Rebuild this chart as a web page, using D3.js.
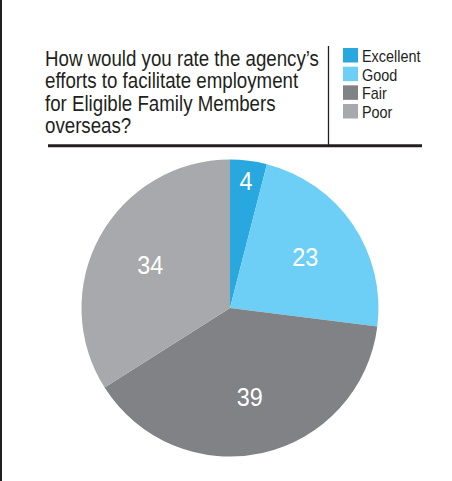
<!DOCTYPE html>
<html>
<head>
<meta charset="utf-8">
<script src="https://cdn.jsdelivr.net/npm/d3@7"></script>
<style>
  html, body { margin: 0; padding: 0; background: #fff; }
  svg { display: block; }
  text { font-family: "Liberation Sans", Arial, sans-serif; }
</style>
</head>
<body>
<svg id="chart" width="452" height="481"></svg>
<script>
// Survey responses (percent)
const categories = ["Excellent", "Good", "Fair", "Poor"];
const values = [4, 23, 39, 34];
const colors = ["#29a8e0", "#6dcff6", "#808285", "#a7a9ac"];
const titleLines = [
  "How would you rate the agency\u2019s",
  "efforts to facilitate employment",
  "for Eligible Family Members",
  "overseas?"
];

const W = 452, H = 481;
const ink = "#231f20";
const svg = d3.select("#chart");

// page edge rule on the left
svg.append("rect").attr("x", 0).attr("y", 0).attr("width", 2).attr("height", H).attr("fill", ink);

// title block, set in a condensed face (horizontally narrowed sans)
const title = svg.append("text")
  .attr("transform", "translate(45,66) scale(0.85,1)")
  .attr("fill", ink)
  .attr("font-size", 22);
title.selectAll("tspan").data(titleLines).join("tspan")
  .attr("x", 0)
  .attr("y", (d, i) => i * 22.5)
  .text(d => d);

// header rules
svg.append("line").attr("x1", 328.5).attr("x2", 328.5).attr("y1", 46).attr("y2", 145)
  .attr("stroke", ink).attr("stroke-width", 1.3);
svg.append("line").attr("x1", 48).attr("x2", 422).attr("y1", 145.8).attr("y2", 145.8)
  .attr("stroke", ink).attr("stroke-width", 3);

// legend
const color = d3.scaleOrdinal().domain(categories).range(colors);
const legendY = d3.scalePoint().domain(categories).range([48, 104]);
const item = svg.append("g").selectAll("g").data(categories).join("g")
  .attr("transform", d => `translate(343,${legendY(d)})`);
item.append("rect").attr("width", 15).attr("height", 14.5).attr("fill", d => color(d));
item.append("text")
  .attr("transform", "translate(19,14) scale(0.9,1)")
  .attr("font-size", 16)
  .attr("fill", ink)
  .text(d => d);

// pie, starting at 12 o'clock and running clockwise
const cx = 230, cy = 308, r = 148.5;
const pie = d3.pie().sort(null).value(d => d.value);
const arcs = pie(categories.map((c, i) => ({ cat: c, value: values[i] })));
const arc = d3.arc().innerRadius(0).outerRadius(r);
const g = svg.append("g").attr("transform", `translate(${cx},${cy})`);
g.selectAll("path").data(arcs).join("path")
  .attr("d", arc)
  .attr("fill", d => color(d.data.cat));

// value labels: narrow slices get their label out near the rim
const labelArc = d3.arc().innerRadius(91).outerRadius(91);
const rimArc = d3.arc().innerRadius(128).outerRadius(128);
g.selectAll("text.val").data(arcs).join("text")
  .attr("class", "val")
  .attr("transform", d => {
    const [x, y] = (d.data.value < 10 ? rimArc : labelArc).centroid(d);
    return `translate(${x},${y}) scale(0.9,1)`;
  })
  .attr("text-anchor", "middle")
  .attr("dy", "0.36em")
  .attr("font-size", 26)
  .attr("fill", "#fff")
  .text(d => d.data.value);
</script>
</body>
</html>
